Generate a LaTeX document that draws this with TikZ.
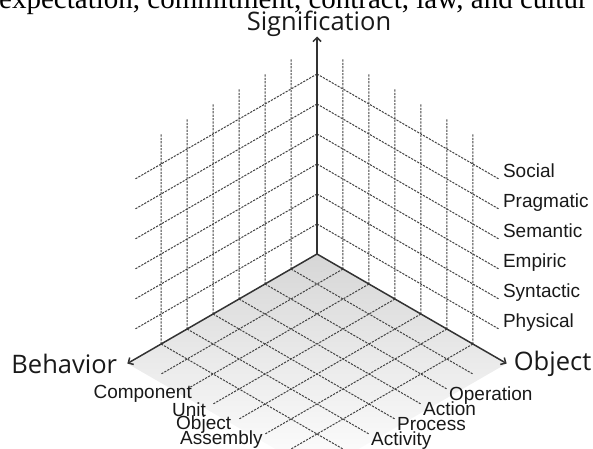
\documentclass[tikz,border=0pt]{standalone}
\usepackage{fontspec}
\usepackage{tikz}
\usetikzlibrary{arrows.meta,positioning}
\newfontfamily\axfont{Open Sans}
\newfontfamily\lblfont{Liberation Sans}
\newfontfamily\serfont{Liberation Serif}
\definecolor{gridgray}{rgb}{0.26,0.26,0.26}
\definecolor{axisgray}{rgb}{0.2,0.2,0.2}
\definecolor{floorgray}{rgb}{0.84,0.84,0.84}
\definecolor{inkgray}{rgb}{0.1,0.1,0.1}

\begin{document}
\begin{tikzpicture}[x=1pt,y=-1pt,
    gridline/.style={gridgray,line width=1pt,dash pattern=on 2.2pt off 1.2pt},
    axisline/.style={axisgray,line width=1.5pt,-{Straight Barb[length=4pt,width=8pt]}},
    axislabel/.style={inner sep=0pt,text=inkgray,font=\axfont\fontsize{25.5}{30}\selectfont},
    layerlabel/.style={inner sep=0pt,text=inkgray,font=\lblfont\fontsize{19}{22}\selectfont}]
  \clip (0,0) rectangle (593,448);
  \node[anchor=base west,inner sep=0pt,font=\serfont\fontsize{29}{34}\selectfont] (caption) at (-1,8.5)
       {expectation, commitment, contract, law, and cultur};
  \coordinate (O) at (317,254);
  \begin{scope}[shift={(O)},x={(-25.98pt,-15pt)},y={(0pt,30pt)},z={(25.98pt,-15pt)}]
    \shade[top color=floorgray,bottom color=white] (0,0,0) -- (7.3,0,0) -- (7.3,0,7.3) -- (0,0,7.3) -- cycle;
    \foreach \k in {1,...,6}{
      \draw[gridline] (\k,0,0) -- (\k,0,7) (0,0,\k) -- (7,0,\k);
      \draw[gridline] (\k,0,0) -- (\k,7,0) (0,\k,0) -- (7,\k,0);
      \draw[gridline] (0,0,\k) -- (0,7,\k) (0,\k,0) -- (0,\k,7);
    }
    \coordinate (btip) at (7.3,0,0);
    \coordinate (stip) at (0,7.25,0);
    \coordinate (otip) at (0,0,7.3);
    \foreach \j/\nm/\lbl in {1/physical/Physical,2/syntactic/Syntactic,3/empiric/Empiric,
                             4/semantic/Semantic,5/pragmatic/Pragmatic,6/social/Social}
      \node[layerlabel,anchor=base west,xshift=4pt,yshift=2pt] (\nm) at (0,\j,7) {\lbl};
    \foreach \k/\nm/\lbl in {2/operation/Operation,3/action/Action,4/process/Process,5/activity/Activity}
      \node[layerlabel,anchor=base west,xshift=2pt,yshift=-11pt] (\nm) at (\k,0,7) {\lbl};
  \end{scope}
  \draw[axisline] (O) -- (btip);
  \draw[axisline] (O) -- (stip);
  \draw[axisline] (O) -- (otip);
  \node[axislabel,left=10pt of btip] (behavior) {Behavior};
  \node[axislabel,right=7pt of otip] (object) {Object};
  \node[axislabel,above=0pt of stip,xshift=2pt] (signification) {Signification};
  \node[layerlabel,anchor=base east] (component) at (192,398) {Component};
  \node[layerlabel,anchor=base west] (unit) at (172,416) {Unit};
  \node[layerlabel,anchor=base west] (objectlvl) at (176,429.5) {Object};
  \node[layerlabel,anchor=base west] (assembly) at (180,444) {Assembly};
\end{tikzpicture}
\end{document}
